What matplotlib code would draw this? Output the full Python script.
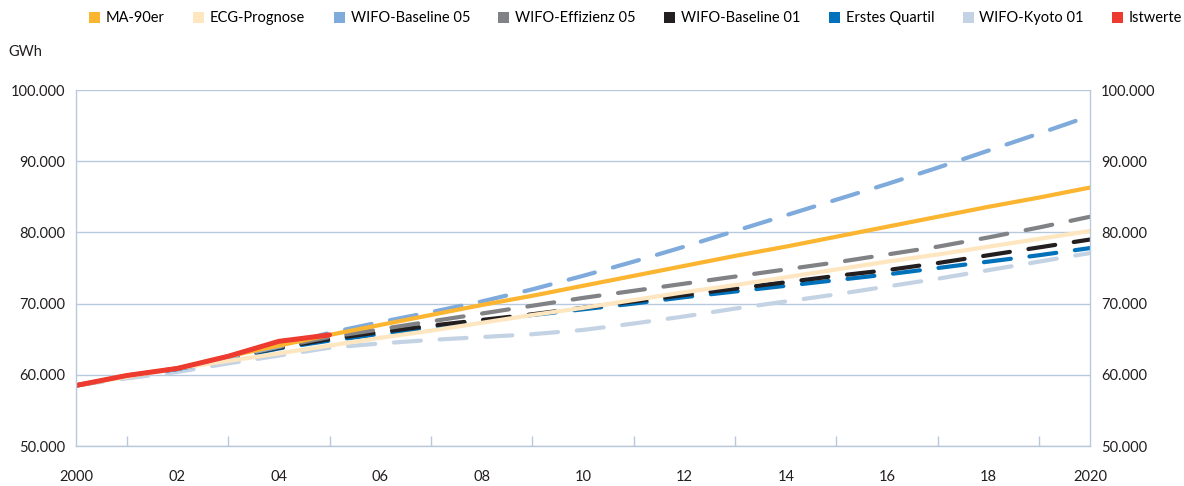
import numpy as np
import matplotlib
matplotlib.use("Agg")
import matplotlib.pyplot as plt
from matplotlib.patches import Patch
from matplotlib.ticker import FuncFormatter

plt.rcParams['font.family'] = ['Lato', 'DejaVu Sans']

years = list(range(2000, 2021))

# Prognosen Stromverbrauch (GWh)
ma_90er = [58500, 59900, 60900, 62600, 64100, 65600, 67000, 68400, 69800, 71100,
           72500, 73900, 75300, 76700, 78000, 79400, 80800, 82200, 83600, 84900, 86300]
ecg_prognose = [58500, 59700, 60900, 61950, 63000, 64100, 65200, 66200, 67300, 68400,
                69400, 70500, 71600, 72600, 73700, 74800, 75900, 76900, 78000, 79100, 80200]
wifo_baseline_05 = [58500, 59800, 60900, 62400, 64000, 65900, 67400, 68800, 70300, 72000,
                    73900, 75900, 78000, 80200, 82400, 84600, 86800, 89100, 91500, 93900, 96350]
wifo_effizienz_05 = [58500, 59800, 60900, 62400, 63900, 65300, 66400, 67500, 68600, 69700,
                     70800, 71800, 72800, 73800, 74800, 75800, 76900, 78000, 79300, 80700, 82200]
wifo_baseline_01 = [58500, 59800, 60900, 62400, 63800, 65000, 66000, 66900, 67700, 68500,
                    69400, 70300, 71200, 72100, 73000, 73900, 74700, 75700, 76800, 77900, 79000]
erstes_quartil = [58500, 59800, 60800, 62200, 63700, 64800, 65700, 66700, 67600, 68400,
                  69200, 70000, 70900, 71700, 72500, 73300, 74100, 75000, 75900, 76800, 77800]
wifo_kyoto_01 = [58500, 59500, 60400, 61600, 62700, 63800, 64400, 64900, 65300, 65700,
                 66300, 67200, 68200, 69300, 70300, 71300, 72400, 73500, 74700, 75900, 77100]
ist_years = [2000, 2001, 2002, 2003, 2004, 2005]
istwerte = [58500, 59900, 60900, 62600, 64700, 65600]

xtick_labels = ['2000', '02', '04', '06', '08', '10', '12', '14', '16', '18', '2020']

fig = plt.figure(figsize=(11.84, 4.86), dpi=100)
ax = fig.add_axes([0.0642, 0.0823, 0.8564, 0.7325])

grid_c = '#b9c9dd'
dash = (6.5, 4.5)

# gestrichelte Szenarien
ax.plot(years, wifo_kyoto_01, color='#c4d3e4', lw=3, ls=(0, dash), dash_capstyle='round')
ax.plot(years, erstes_quartil, color='#0072bc', lw=3, ls=(0, dash), dash_capstyle='round')
ax.plot(years, wifo_baseline_01, color='#231f20', lw=3, ls=(0, dash), dash_capstyle='round')
ax.plot(years, wifo_effizienz_05, color='#808285', lw=3, ls=(0, dash), dash_capstyle='round')
ax.plot(years, wifo_baseline_05, color='#7eaadc', lw=3, ls=(0, dash), dash_capstyle='round')
# durchgezogene Linien
ax.plot(years, ecg_prognose, color='#fde6c0', lw=3, solid_capstyle='round')
ax.plot(years, ma_90er, color='#fbb531', lw=3, solid_capstyle='round')
ax.plot(ist_years, istwerte, color='#ee3b2f', lw=3.6, solid_capstyle='round')

ax.set_xlim(2000, 2020)
ax.set_ylim(50000, 100000)
ax.set_yticks(range(50000, 100001, 10000))
ax.yaxis.set_major_formatter(FuncFormatter(lambda v, p: f'{int(v):,}'.replace(',', '.')))
ax.set_xticks(range(2000, 2021, 2))
ax.set_xticklabels(xtick_labels)
ax.set_xticks(range(2000, 2021), minor=True)

ax.grid(axis='y', color=grid_c, lw=1)
ax.set_axisbelow(True)
for s in ['left', 'right', 'bottom']:
    ax.spines[s].set_color(grid_c)
    ax.spines[s].set_linewidth(1)
ax.spines['top'].set_visible(False)

ax.tick_params(axis='y', length=0, labelsize=10.5, labelcolor='#231f20', pad=8,
               labelleft=True, labelright=True)
ax.tick_params(axis='x', which='major', length=0, labelsize=10.5, labelcolor='#231f20', pad=17)
ax.tick_params(axis='x', which='minor', direction='in', length=7, color=grid_c, width=1)

fig.text(0.007, 0.893, 'GWh', fontsize=10.5, color='#231f20', va='center', ha='left')

names = ['MA-90er', 'ECG-Prognose', 'WIFO-Baseline 05', 'WIFO-Effizienz 05',
         'WIFO-Baseline 01', 'Erstes Quartil', 'WIFO-Kyoto 01', 'Istwerte']
colors = ['#fbb531', '#fde6c0', '#7eaadc', '#808285', '#231f20', '#0072bc', '#c4d3e4', '#ee3b2f']
handles = [Patch(facecolor=c, edgecolor='none') for c in colors]
fig.legend(handles, names, loc='center', bbox_to_anchor=(0.537, 0.962), ncol=8,
           frameon=False, fontsize=10.5, handlelength=0.75, handleheight=0.75,
           handletextpad=0.4, columnspacing=1.95)

fig.savefig('out.png', dpi=100)
